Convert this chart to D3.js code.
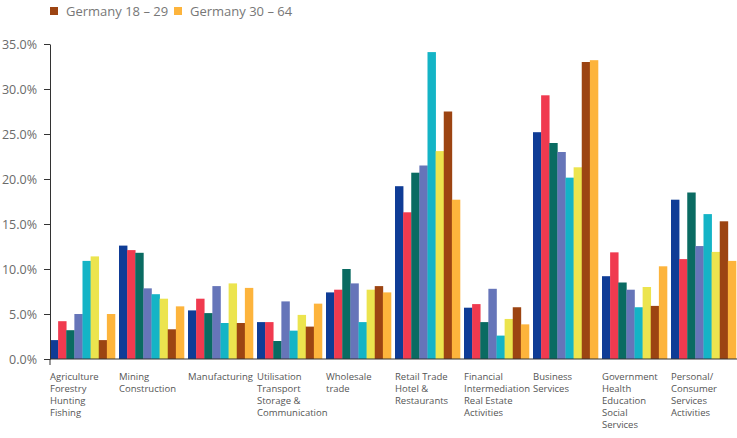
<!DOCTYPE html>
<html>
<head>
<meta charset="utf-8">
<script src="https://cdn.jsdelivr.net/npm/d3@7"></script>
<style>
  body { margin: 0; background: #fff; }
  text { font-family: "Open Sans", "DejaVu Sans", sans-serif; }
  .tick-label { font-size: 12.5px; fill: #6a6a6a; }
  .cat-label { font-size: 9.5px; fill: #555; }
  .legend-text { font-size: 13px; fill: #777; }
</style>
</head>
<body>
<div id="chart"></div>
<script>
// Categories (lines split with \n)
const categories = [
  "Agriculture\nForestry\nHunting\nFishing",
  "Mining\nConstruction",
  "Manufacturing",
  "Utilisation\nTransport\nStorage &\nCommunication",
  "Wholesale\ntrade",
  "Retail Trade\nHotel &\nRestaurants",
  "Financial\nIntermediation\nReal Estate\nActivities",
  "Business\nServices",
  "Government\nHealth\nEducation\nSocial\nServices",
  "Personal/\nConsumer\nServices\nActivities"
];

// Series (only the last two are labelled in the visible legend)
const seriesNames = ["Series 1", "Series 2", "Series 3", "Series 4", "Series 5", "Series 6",
  "Germany 18 – 29", "Germany 30 – 64"];
const legendSeries = ["Germany 18 – 29", "Germany 30 – 64"];
const seriesColors = ["#0f3c96", "#f03a4f", "#0a6b62", "#6675b9", "#14b4c6", "#ece44e", "#9c4412", "#fdb43c"];

// Values (%), one array per series, in category order
const series1 = [2.1, 12.6, 5.4, 4.1, 7.4, 19.2, 5.7, 25.2, 9.2, 17.7];
const series2 = [4.2, 12.1, 6.7, 4.1, 7.7, 16.3, 6.1, 29.3, 11.85, 11.1];
const series3 = [3.2, 11.8, 5.1, 2.0, 10.0, 20.7, 4.1, 24.0, 8.5, 18.5];
const series4 = [5.0, 7.85, 8.1, 6.4, 8.4, 21.5, 7.8, 23.0, 7.7, 12.55];
const series5 = [10.9, 7.2, 4.0, 3.15, 4.1, 34.1, 2.6, 20.15, 5.75, 16.1];
const series6 = [11.4, 6.7, 8.4, 4.9, 7.7, 23.1, 4.45, 21.3, 8.0, 11.9];
const germany1829 = [2.1, 3.3, 4.0, 3.6, 8.1, 27.5, 5.75, 33.0, 5.9, 15.3];
const germany3064 = [5.0, 5.85, 7.9, 6.15, 7.4, 17.7, 3.85, 33.2, 10.3, 10.9];
const allSeries = [series1, series2, series3, series4, series5, series6, germany1829, germany3064];

const yTicks = [0, 5, 10, 15, 20, 25, 30, 35];

const width = 737, height = 438;
const margin = { top: 44, left: 50, bottom: 79 };

const svg = d3.select("#chart").append("svg")
  .attr("width", width)
  .attr("height", height);

const x0 = d3.scaleBand()
  .domain(categories)
  .range([margin.left, margin.left + 686])
  .paddingInner(0.058)
  .paddingOuter(0)
  .align(0);

const x1 = d3.scaleBand()
  .domain(seriesNames)
  .range([0, x0.bandwidth()]);

const y = d3.scaleLinear()
  .domain([0, 35])
  .range([height - margin.bottom, margin.top]);

const color = d3.scaleOrdinal().domain(seriesNames).range(seriesColors);

// Bars
const groups = svg.append("g")
  .selectAll("g")
  .data(categories)
  .join("g")
  .attr("transform", d => `translate(${x0(d)},0)`);

groups.selectAll("rect")
  .data((c, ci) => seriesNames.map((s, si) => ({ s, v: allSeries[si][ci] })))
  .join("rect")
  .attr("x", d => x1(d.s))
  .attr("y", d => y(d.v))
  .attr("width", x1.bandwidth() + 0.3)
  .attr("height", d => y(0) - y(d.v))
  .attr("fill", d => color(d.s));

// Y axis
const yAxis = svg.append("g")
  .attr("transform", `translate(${margin.left},0)`)
  .call(d3.axisLeft(y).tickValues(yTicks).tickFormat(d => d.toFixed(1) + "%").tickSize(6).tickSizeOuter(0));
yAxis.selectAll("path, line").attr("stroke", "#333");
yAxis.selectAll("text").attr("class", "tick-label").attr("x", -13).attr("font-size", null).attr("font-family", null);

// X axis
const xAxis = svg.append("g")
  .attr("transform", `translate(0,${y(0)})`)
  .call(d3.axisBottom(x0).tickSize(0).tickSizeOuter(6).tickFormat(""));
xAxis.select(".domain").attr("stroke", "#333");
xAxis.select(".domain").attr("d", `M${margin.left},6V0H${width + 5}`);

// Category labels
const catLabels = svg.append("g")
  .selectAll("text")
  .data(categories)
  .join("text")
  .attr("class", "cat-label")
  .attr("x", d => x0(d))
  .attr("y", y(0) + 21);

catLabels.selectAll("tspan")
  .data(d => d.split("\n"))
  .join("tspan")
  .attr("x", function () { return d3.select(this.parentNode).attr("x"); })
  .attr("dy", (d, i) => i === 0 ? 0 : 12)
  .text(d => d);

// Legend
const legend = svg.append("g")
  .selectAll("g")
  .data(legendSeries)
  .join("g")
  .attr("transform", (d, i) => `translate(${50 + i * 124},7)`);

legend.append("rect")
  .attr("width", 8)
  .attr("height", 8)
  .attr("fill", d => color(d));

legend.append("text")
  .attr("class", "legend-text")
  .attr("x", 16)
  .attr("y", 8.5)
  .text(d => d);
</script>
</body>
</html>
